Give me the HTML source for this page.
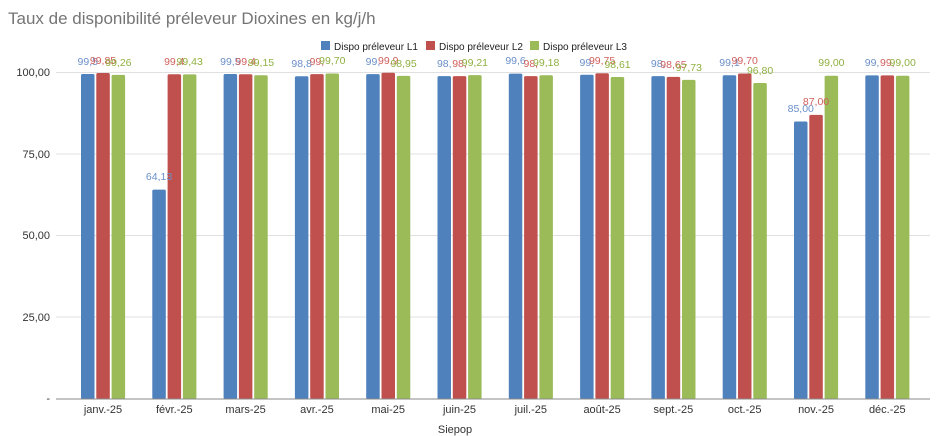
<!DOCTYPE html>
<html><head><meta charset="utf-8"><style>
body{margin:0;background:#fff;}
svg{display:block;font-family:"Liberation Sans",Arial,sans-serif;}
.a{fill:#4f81bd}.b{fill:#c0504d}.c{fill:#9bbb59}
.ta{fill:#6a8fc9}.tb{fill:#d0605d}.tc{fill:#8fb040}
.l{font-size:10.5px;text-anchor:middle}
.m{font-size:11px;fill:#333;text-anchor:middle}
</style></head><body>
<svg width="940" height="436" viewBox="0 0 940 436">
<text x="8" y="24" font-size="17" fill="#757575">Taux de disponibilité préleveur Dioxines en kg/j/h</text>
<g font-size="10" fill="#222">
<rect x="321" y="41" width="9" height="9" class="a"/><text x="334" y="50">Dispo préleveur L1</text>
<rect x="426" y="41" width="9" height="9" class="b"/><text x="439" y="50">Dispo préleveur L2</text>
<rect x="530" y="41" width="9" height="9" class="c"/><text x="543" y="50">Dispo préleveur L3</text>
</g>
<g stroke="#e0e0e0" stroke-width="1">
<line x1="56" x2="930" y1="72.5" y2="72.5"/>
<line x1="56" x2="930" y1="154" y2="154"/>
<line x1="56" x2="930" y1="235.5" y2="235.5"/>
<line x1="56" x2="930" y1="317" y2="317"/>
</g>
<g font-size="11" fill="#333" text-anchor="end">
<text x="50" y="76">100,00</text><text x="50" y="158">75,00</text><text x="50" y="239">50,00</text><text x="50" y="321">25,00</text><text x="50" y="402">-</text>
</g>

<g transform="translate(81,0)">
<rect class="a" x="0" y="74" width="13.5" height="325" rx="1.5"/><rect class="b" x="15.3" y="73" width="13.5" height="326" rx="1.5"/><rect class="c" x="30.6" y="74.9" width="13.5" height="324.1" rx="1.5"/>
<text class="l ta" x="6.75" y="65">99,5</text><text class="l tb" x="22" y="64">99,85</text><text class="l tc" x="37.4" y="66">99,26</text>
<text class="m" x="22" y="413">janv.-25</text></g>

<g transform="translate(152.3,0)">
<rect class="a" x="0" y="189.6" width="13.5" height="209.4" rx="1.5"/><rect class="b" x="15.3" y="74.3" width="13.5" height="324.7" rx="1.5"/><rect class="c" x="30.6" y="74.4" width="13.5" height="324.6" rx="1.5"/>
<text class="l ta" x="6.75" y="180">64,13</text><text class="l tb" x="22" y="65">99,4</text><text class="l tc" x="37.4" y="65">99,43</text>
<text class="m" x="22" y="413">févr.-25</text></g>

<g transform="translate(223.6,0)">
<rect class="a" x="0" y="74" width="13.5" height="325" rx="1.5"/><rect class="b" x="15.3" y="74.3" width="13.5" height="324.7" rx="1.5"/><rect class="c" x="30.6" y="75.3" width="13.5" height="323.7" rx="1.5"/>
<text class="l ta" x="6.75" y="65">99,5</text><text class="l tb" x="22" y="65">99,4</text><text class="l tc" x="37.4" y="66">99,15</text>
<text class="m" x="22" y="413">mars-25</text></g>

<g transform="translate(294.9,0)">
<rect class="a" x="0" y="76.3" width="13.5" height="322.7" rx="1.5"/><rect class="b" x="15.3" y="74.1" width="13.5" height="324.9" rx="1.5"/><rect class="c" x="30.6" y="73.5" width="13.5" height="325.5" rx="1.5"/>
<text class="l ta" x="6.75" y="67">98,8</text><text class="l tb" x="22" y="65">99,</text><text class="l tc" x="37.4" y="64">99,70</text>
<text class="m" x="22" y="413">avr.-25</text></g>

<g transform="translate(366.2,0)">
<rect class="a" x="0" y="74.1" width="13.5" height="324.9" rx="1.5"/><rect class="b" x="15.3" y="72.8" width="13.5" height="326.2" rx="1.5"/><rect class="c" x="30.6" y="75.9" width="13.5" height="323.1" rx="1.5"/>
<text class="l ta" x="6.75" y="65">99,</text><text class="l tb" x="22" y="64">99,9</text><text class="l tc" x="37.4" y="67">98,95</text>
<text class="m" x="22" y="413">mai-25</text></g>

<g transform="translate(437.5,0)">
<rect class="a" x="0" y="76.1" width="13.5" height="322.9" rx="1.5"/><rect class="b" x="15.3" y="76.1" width="13.5" height="322.9" rx="1.5"/><rect class="c" x="30.6" y="75.1" width="13.5" height="323.9" rx="1.5"/>
<text class="l ta" x="6.75" y="67">98,</text><text class="l tb" x="22" y="67">98,</text><text class="l tc" x="37.4" y="66">99,21</text>
<text class="m" x="22" y="413">juin-25</text></g>

<g transform="translate(508.8,0)">
<rect class="a" x="0" y="73.6" width="13.5" height="325.4" rx="1.5"/><rect class="b" x="15.3" y="76.1" width="13.5" height="322.9" rx="1.5"/><rect class="c" x="30.6" y="75.2" width="13.5" height="323.8" rx="1.5"/>
<text class="l ta" x="6.75" y="64">99,6</text><text class="l tb" x="22" y="67">98,</text><text class="l tc" x="37.4" y="66">99,18</text>
<text class="m" x="22" y="413">juil.-25</text></g>

<g transform="translate(580.1,0)">
<rect class="a" x="0" y="74.8" width="13.5" height="324.2" rx="1.5"/><rect class="b" x="15.3" y="73.3" width="13.5" height="325.7" rx="1.5"/><rect class="c" x="30.6" y="77" width="13.5" height="322" rx="1.5"/>
<text class="l ta" x="6.75" y="66">99,</text><text class="l tb" x="22" y="64">99,75</text><text class="l tc" x="37.4" y="68">98,61</text>
<text class="m" x="22" y="413">août-25</text></g>

<g transform="translate(651.4,0)">
<rect class="a" x="0" y="76.1" width="13.5" height="322.9" rx="1.5"/><rect class="b" x="15.3" y="76.9" width="13.5" height="322.1" rx="1.5"/><rect class="c" x="30.6" y="79.9" width="13.5" height="319.1" rx="1.5"/>
<text class="l ta" x="6.75" y="67">98,</text><text class="l tb" x="22" y="68">98,65</text><text class="l tc" x="37.4" y="71">97,73</text>
<text class="m" x="22" y="413">sept.-25</text></g>

<g transform="translate(722.7,0)">
<rect class="a" x="0" y="75.3" width="13.5" height="323.7" rx="1.5"/><rect class="b" x="15.3" y="73.5" width="13.5" height="325.5" rx="1.5"/><rect class="c" x="30.6" y="83" width="13.5" height="316" rx="1.5"/>
<text class="l ta" x="6.75" y="66">99,1</text><text class="l tb" x="22" y="64">99,70</text><text class="l tc" x="37.4" y="74">96,80</text>
<text class="m" x="22" y="413">oct.-25</text></g>

<g transform="translate(794,0)">
<rect class="a" x="0" y="121.5" width="13.5" height="277.5" rx="1.5"/><rect class="b" x="15.3" y="114.9" width="13.5" height="284.1" rx="1.5"/><rect class="c" x="30.6" y="75.8" width="13.5" height="323.2" rx="1.5"/>
<text class="l ta" x="6.75" y="112">85,00</text><text class="l tb" x="22" y="105">87,00</text><text class="l tc" x="37.4" y="66">99,00</text>
<text class="m" x="22" y="413">nov.-25</text></g>

<g transform="translate(865.3,0)">
<rect class="a" x="0" y="75.4" width="13.5" height="323.6" rx="1.5"/><rect class="b" x="15.3" y="75.4" width="13.5" height="323.6" rx="1.5"/><rect class="c" x="30.6" y="75.8" width="13.5" height="323.2" rx="1.5"/>
<text class="l ta" x="6.75" y="66">99,</text><text class="l tb" x="22" y="66">99,</text><text class="l tc" x="37.4" y="66">99,00</text>
<text class="m" x="22" y="413">déc.-25</text></g>

<line x1="56" x2="930" y1="399" y2="399" stroke="#888"/>
<text x="455" y="433" font-size="11" fill="#333" text-anchor="middle">Siepop</text>
</svg>
</body></html>
